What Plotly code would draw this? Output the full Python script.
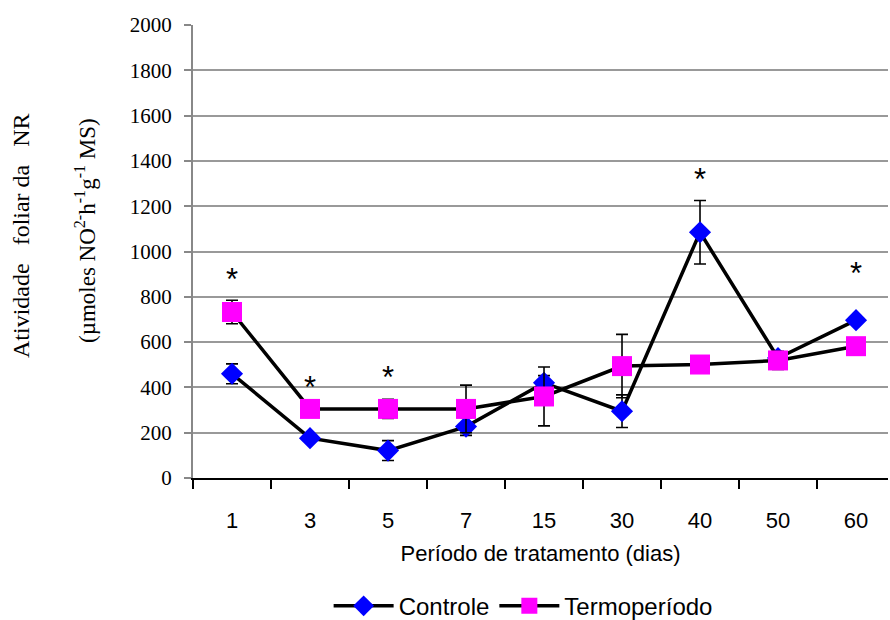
import plotly.graph_objects as go

# Tratamento (dias)
dias = ["1", "3", "5", "7", "15", "30", "40", "50", "60"]

# Atividade foliar da NR (médias e erros)
controle = [460, 176, 121, 227, 420, 295, 1085, 530, 697]
controle_err = [44, 15, 44, 39, 32, 72, 140, 20, 15]

termoperiodo = [733, 305, 305, 305, 360, 494, 501, 519, 582]
termoperiodo_err = [52, 15, 42, 105, 130, 140, 15, 40, 15]

# Diferença significativa (*) e altura do símbolo
significativo = [True, True, True, False, False, False, True, False, True]
altura_asterisco = [894, 417, 461, 0, 0, 0, 1336, 0, 920]

serif = "Liberation Serif, Times New Roman, serif"
sans = "Liberation Sans Narrow, Arial Narrow, Liberation Sans, Arial, sans-serif"

fig = go.Figure()

fig.add_trace(go.Scatter(
    x=dias, y=controle, name="Controle", mode="lines+markers",
    line=dict(color="black", width=3.5),
    marker=dict(symbol="diamond", size=17, color="#0000FF",
                line=dict(width=0)),
    error_y=dict(type="data", array=controle_err, color="black",
                 thickness=1.6, width=6),
))

fig.add_trace(go.Scatter(
    x=dias, y=termoperiodo, name="Termoperíodo", mode="lines+markers",
    line=dict(color="black", width=3.5),
    marker=dict(symbol="square", size=20, color="#FF00FF",
                line=dict(width=0)),
    error_y=dict(type="data", array=termoperiodo_err, color="black",
                 thickness=1.6, width=6),
))

annotations = []
for i, (sig, h) in enumerate(zip(significativo, altura_asterisco)):
    if sig:
        annotations.append(dict(
            x=i, y=h, xref="x", yref="y", text="*", showarrow=False,
            font=dict(family="Liberation Sans, Arial, sans-serif", size=31,
                      color="black"),
            xanchor="center", yanchor="middle", yshift=-4,
        ))

# Área do gráfico em pixels
plot_l, plot_r, plot_t, plot_b = 193, 888, 25, 478


def px_to_paper(px_x, px_y):
    return ((px_x - plot_l) / (plot_r - plot_l),
            (plot_b - px_y) / (plot_b - plot_t))


# Título do eixo Y em duas linhas
for texto, cx, cy, tam in [
        ("Atividade   foliar da   NR", 21, 236, 24),
        ("(µmoles NO<sup>2-</sup>h<sup>-1</sup>g<sup>-1</sup> MS)", 85, 231, 23)]:
    px, py = px_to_paper(cx, cy)
    annotations.append(dict(
        x=px, y=py, xref="paper", yref="paper", text=texto,
        showarrow=False, textangle=-90, xanchor="center", yanchor="middle",
        font=dict(family=serif, size=tam, color="black"),
    ))

fig.update_layout(
    width=890, height=620,
    margin=dict(l=plot_l, r=890 - plot_r, t=plot_t, b=620 - plot_b,
                autoexpand=False),
    paper_bgcolor="white", plot_bgcolor="white",
    showlegend=True,
    legend=dict(
        orientation="h", x=0.475, y=-0.283, xanchor="center", yanchor="middle",
        font=dict(family=sans, size=24, color="black"),
        itemwidth=60, tracegroupgap=0,
    ),
    annotations=annotations,
    xaxis=dict(
        type="category", range=[-0.5, 8.41],
        tickson="boundaries", ticks="outside", ticklen=9, tickwidth=1.5,
        tickcolor="black", showline=True, linecolor="black", linewidth=1.5,
        showgrid=False, zeroline=False,
        tickfont=dict(family=sans, size=22, color="black"),
        ticklabelstandoff=22,
        title=dict(text="Período de tratamento (dias)",
                   font=dict(family=sans, size=22, color="black"),
                   standoff=13),
    ),
    yaxis=dict(
        range=[0, 2000], tickvals=list(range(0, 2001, 200)),
        ticks="outside", ticklen=7, tickwidth=1.5, tickcolor="#888888",
        showline=True, linecolor="#888888", linewidth=2,
        showgrid=True, gridcolor="#999999", gridwidth=2,
        zeroline=False,
        tickfont=dict(family=serif, size=21, color="black"),
        ticklabelstandoff=8,
    ),
)

fig.write_html("out.html")
